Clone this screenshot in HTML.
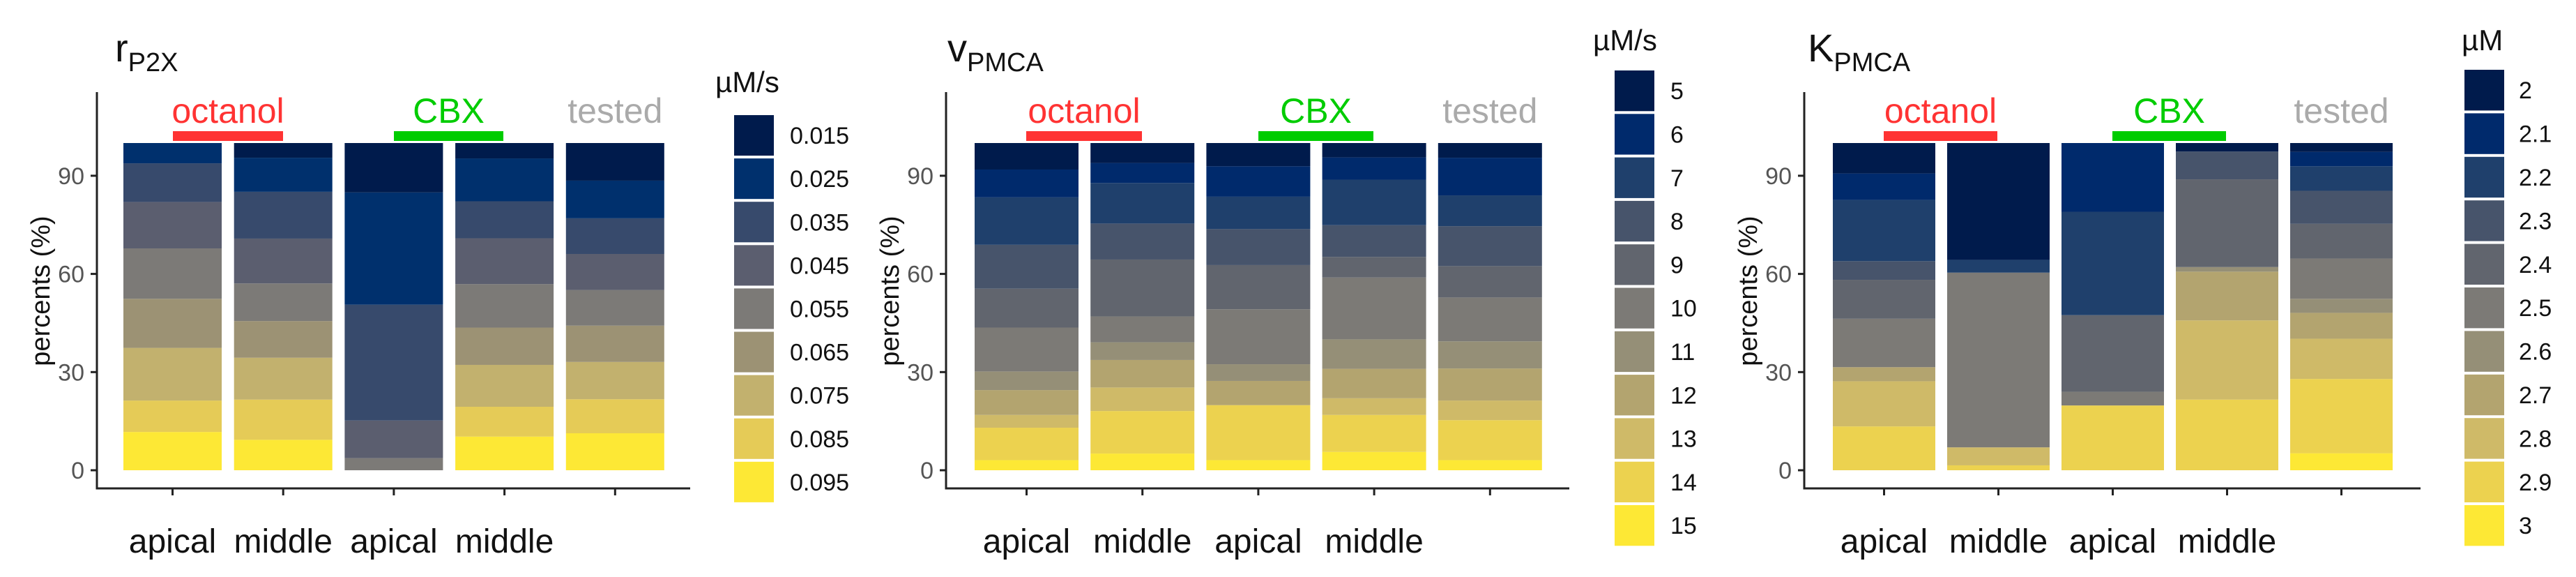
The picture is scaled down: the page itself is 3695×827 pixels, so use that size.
<!DOCTYPE html>
<html><head><meta charset="utf-8">
<style>
html,body{margin:0;padding:0;background:#fff;}
svg{display:block;}
text{font-family:"Liberation Sans Narrow","Liberation Sans",sans-serif;}
</style></head>
<body>
<svg id="chart" width="3695" height="827" viewBox="0 0 3695 827" xmlns="http://www.w3.org/2000/svg"></svg>
<script>
// ---- data ----
const categories = ["octanol apical","octanol middle","CBX apical","CBX middle","tested"];
const xLabels = ["apical","middle","apical","middle",""];
const yTicks = [0,30,60,90];
const legendP2X = ["0.015","0.025","0.035","0.045","0.055","0.065","0.075","0.085","0.095"];
const legendV = ["5","6","7","8","9","10","11","12","13","14","15"];
const legendK = ["2","2.1","2.2","2.3","2.4","2.5","2.6","2.7","2.8","2.9","3"];
// segments listed in legend order (top of stack first), values in %
const rP2X = [
  [0,6.2,11.8,14.2,15.4,15.0,16.1,9.6,11.7],
  [4.5,10.4,14.3,13.7,11.5,11.2,12.8,12.3,9.3],
  [15.1,34.3,35.4,11.5,3.7,0,0,0,0],
  [4.7,13.1,11.3,14.0,13.3,11.4,12.8,9.1,10.3],
  [11.5,11.5,10.9,11.0,10.9,11.1,11.4,10.4,11.3]
];
const vPMCA = [
  [8.1,8.5,14.5,13.4,11.9,13.4,5.7,7.6,3.9,9.9,3.1],
  [6.1,6.1,12.4,11.0,17.4,7.9,5.4,8.4,7.2,13.0,5.1],
  [7.1,9.3,9.9,11.0,13.5,16.8,5.1,7.4,0,16.8,3.1],
  [4.4,6.8,13.9,9.7,6.3,18.9,9.0,9.0,5.1,11.3,5.6],
  [4.5,11.5,9.4,12.2,9.6,13.4,8.3,9.8,6.0,12.2,3.1]
];
const kPMCA = [
  [9.3,8.1,18.7,5.7,11.9,14.8,0,4.3,13.8,13.4,0],
  [35.7,0,3.9,0,0,53.4,0,0,5.5,1.5,0],
  [0,21.0,31.6,0,23.4,4.2,0,0,0,19.8,0],
  [2.6,0,0,8.5,26.8,0,1.4,14.9,24.2,21.6,0],
  [2.7,4.4,7.5,10.1,10.6,12.3,4.3,7.9,12.3,22.7,5.2]
];
const colors9 = ["#001b4c","#00306d","#374a6c","#5b5e6f","#7c7a77","#9c9274","#c2b16e","#e5cb57","#fde835"];
const colors11 = ["#001b4c","#002a6c","#1f406c","#47546b","#61656e","#7c7a76","#958f77","#b3a46f","#cfba68","#ecd24f","#fde835"];

// ---- layout ----
const NS = "http://www.w3.org/2000/svg";
const svg = document.getElementById("chart");
const yBase = 674, yTop = 205;
function yScale(v){ return yBase - (yBase - yTop) * v / 100; }
function el(tag, attrs, parent){
  const e = document.createElementNS(NS, tag);
  for (const k in attrs) e.setAttribute(k, attrs[k]);
  (parent || svg).appendChild(e);
  return e;
}
const panels = [
  {name:"r-p2x", main:"r", sub:"P2X", titleX:165, axisX:139, axisEnd:990, bar0:177, barW:141, step:158.7,
   oct:[248,406], cbx:[565,722], unit:"µM/s", unitX:1026, unitY:132, keyX:1053, keyW:57, keyTop:165, keyStep:62.1,
   labelX:1133, legend:legendP2X, colors:colors9, data:rP2X},
  {name:"v-pmca", main:"v", sub:"PMCA", titleX:1359, axisX:1357, axisEnd:2251, bar0:1398, barW:149, step:166.2,
   oct:[1472,1638], cbx:[1805,1970], unit:"µM/s", unitX:2285, unitY:72, keyX:2316, keyW:57, keyTop:101, keyStep:62.3,
   labelX:2396, legend:legendV, colors:colors11, data:vPMCA},
  {name:"k-pmca", main:"K", sub:"PMCA", titleX:2593, axisX:2588, axisEnd:3472, bar0:2629, barW:147, step:164,
   oct:[2702,2865], cbx:[3030,3193], unit:"µM", unitX:3531, unitY:72, keyX:3535, keyW:57, keyTop:100, keyStep:62.4,
   labelX:3613, legend:legendK, colors:colors11, data:kPMCA}
];

panels.forEach(p => {
  const g = el("g", {});
  
  
  // title
  const t = el("text", {x:p.titleX, y:88, "font-size":56, fill:"#111", style:"font-family:'Liberation Sans',sans-serif"}, g);
  
  
  t.textContent = p.main;
  const ts = el("tspan", {"font-size":38, dy:14}, t);
  ts.textContent = p.sub;
  // bars
  p.data.forEach((segs, i) => {
    const bx = p.bar0 + i * p.step;
    let cum = 0;
    for (let s = segs.length - 1; s >= 0; s--) {
      const v = segs[s];
      if (v <= 0) continue;
      const y1 = yScale(cum), y2 = yScale(cum + v);
      const r = el("rect", {x:bx, y:y2, width:p.barW, height:(y1 - y2), fill:p.colors[s]}, g);
      
      
      cum += v;
    }
    const cx = bx + p.barW / 2;
    const tk = el("line", {x1:cx, x2:cx, y1:700, y2:710, stroke:"#222", "stroke-width":3}, g);
    
    
    if (xLabels[i]) {
      const xl = el("text", {x:cx, y:792, "text-anchor":"middle", "font-size":48, fill:"#111"}, g);
      
      
      xl.textContent = xLabels[i];
    }
  });
  // axes
  const ya = el("line", {x1:p.axisX, x2:p.axisX, y1:132, y2:701.5, stroke:"#222", "stroke-width":3}, g);
  
  
  const xa = el("line", {x1:p.axisX - 1.5, x2:p.axisEnd, y1:700, y2:700, stroke:"#222", "stroke-width":3}, g);
  
  
  yTicks.forEach(v => {
    const y = yScale(v);
    const l = el("line", {x1:p.axisX - 9, x2:p.axisX, y1:y, y2:y, stroke:"#222", "stroke-width":3}, g);
    
    
    const tl = el("text", {x:p.axisX - 18, y:y + 12, "text-anchor":"end", "font-size":34, fill:"#555"}, g);
    
    
    tl.textContent = v;
  });
  const yt = el("text", {x:0, y:0, "text-anchor":"middle", "font-size":38, fill:"#111",
    style:"font-family:'Liberation Sans',sans-serif", transform:`translate(${p.axisX - 68},417) rotate(-90)`}, g);
  
  
  yt.textContent = "percents (%)";
  // group annotations
  const groups = [["octanol", "#ff3333", p.oct], ["CBX", "#00cc00", p.cbx]];
  groups.forEach(([name, col, r]) => {
    const gl = el("text", {x:(r[0] + r[1]) / 2, y:176, "text-anchor":"middle", "font-size":50, fill:col}, g);
    
    
    gl.textContent = name;
    const gb = el("rect", {x:r[0], y:188, width:r[1] - r[0], height:14, fill:col}, g);
    
    
  });
  const tx = p.bar0 + 4 * p.step + p.barW / 2;
  const tl2 = el("text", {x:tx, y:176, "text-anchor":"middle", "font-size":50, fill:"#aaa"}, g);
  
  
  tl2.textContent = "tested";
  // legend
  const ut = el("text", {x:p.unitX, y:p.unitY, "font-size":42, fill:"#111"}, g);
  
  
  ut.textContent = p.unit;
  p.legend.forEach((lab, i) => {
    const ky = p.keyTop + i * p.keyStep;
    const k = el("rect", {x:p.keyX, y:ky, width:p.keyW, height:p.keyStep - 4, fill:p.colors[i]}, g);
    
    
    const kl = el("text", {x:p.labelX, y:ky + (p.keyStep - 4) / 2 + 12, "font-size":34, fill:"#111"}, g);
    
    
    kl.textContent = lab;
  });
});
</script>
</body></html>
